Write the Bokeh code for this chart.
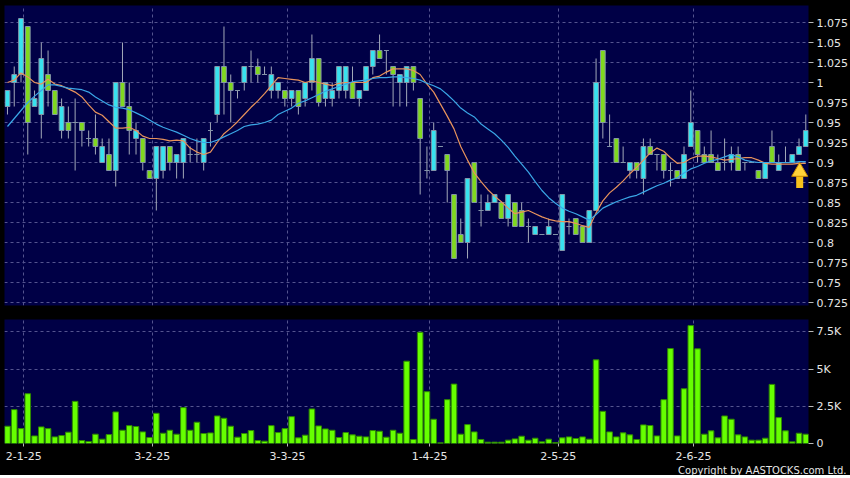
from bokeh.plotting import figure
from bokeh.layouts import column
from bokeh.models import ColumnDataSource, FixedTicker, NumeralTickFormatter, Range1d, Title
from bokeh.embed import file_html
from bokeh.resources import INLINE

# ---------------- data ----------------
open_ = [0.97, 1.00, 1.01, 1.07, 0.97, 0.96, 1.01, 0.99, 0.94, 0.95,
         0.95, 0.95, 0.93, 0.93, 0.90, 0.91, 0.89, 1.00, 0.97, 0.93,
         0.93, 0.89, 0.88, 0.89, 0.92, 0.90, 0.90, 0.91, 0.91, 0.90,
         0.94, 0.96, 1.02, 1.00, 0.99, 1.00, 1.02, 1.02, 1.01, 0.99,
         0.99, 0.99, 0.98, 0.99, 0.98, 1.00, 1.03, 0.98, 0.98, 0.99,
         0.99, 1.00, 0.98, 0.99, 1.02, 1.04, 1.04, 1.02, 1.00, 1.00,
         1.02, 0.98, 0.89, 0.89, 0.92, 0.91, 0.86, 0.81, 0.80, 0.90,
         0.84, 0.84, 0.85, 0.85, 0.83, 0.85, 0.84, 0.82, 0.81, 0.81,
         0.81, 0.81, 0.79, 0.82, 0.83, 0.82, 0.80, 0.84, 1.04, 0.92,
         0.93, 0.90, 0.89, 0.90, 0.88, 0.92, 0.91, 0.91, 0.89, 0.89,
         0.88, 0.92, 0.94, 0.91, 0.91, 0.90, 0.90, 0.90, 0.91, 0.90,
         0.90, 0.89, 0.88, 0.92, 0.89, 0.90, 0.90, 0.91, 0.92]

high = [0.99, 1.02, 1.08, 1.07, 0.99, 1.05, 1.04, 0.99, 0.98, 0.97,
        0.98, 0.95, 0.94, 0.96, 0.93, 0.93, 1.00, 1.05, 1.00, 0.95,
        0.93, 0.89, 0.92, 0.92, 0.92, 0.91, 0.93, 0.92, 0.93, 0.93,
        0.95, 1.02, 1.07, 1.01, 0.99, 1.02, 1.04, 1.03, 1.02, 1.02,
        1.00, 0.99, 0.99, 0.99, 1.00, 1.06, 1.03, 1.00, 1.00, 1.02,
        1.02, 1.02, 0.99, 1.02, 1.04, 1.06, 1.04, 1.02, 1.01, 1.02,
        1.02, 0.98, 0.92, 0.95, 0.92, 0.91, 0.86, 0.83, 0.88, 0.90,
        0.86, 0.86, 0.86, 0.85, 0.86, 0.85, 0.85, 0.83, 0.82, 0.81,
        0.83, 0.81, 0.86, 0.83, 0.83, 0.82, 0.84, 1.03, 1.04, 0.96,
        0.93, 0.92, 0.90, 0.90, 0.93, 0.93, 0.91, 0.91, 0.90, 0.89,
        0.92, 0.99, 0.94, 0.92, 0.94, 0.91, 0.93, 0.92, 0.92, 0.90,
        0.90, 0.89, 0.90, 0.94, 0.91, 0.92, 0.91, 0.93, 0.96]

low = [0.96, 0.97, 1.00, 0.91, 0.97, 0.93, 0.97, 0.96, 0.93, 0.93,
       0.89, 0.92, 0.92, 0.91, 0.90, 0.89, 0.87, 0.97, 0.91, 0.91,
       0.89, 0.88, 0.84, 0.88, 0.89, 0.88, 0.88, 0.90, 0.90, 0.89,
       0.92, 0.95, 0.96, 0.95, 0.98, 0.99, 1.00, 1.00, 1.01, 0.98,
       0.98, 0.97, 0.97, 0.96, 0.97, 0.99, 0.97, 0.97, 0.97, 0.98,
       0.98, 0.98, 0.97, 0.99, 1.01, 1.03, 1.01, 0.97, 0.97, 0.97,
       0.99, 0.86, 0.88, 0.89, 0.92, 0.85, 0.78, 0.80, 0.78, 0.85,
       0.82, 0.84, 0.85, 0.83, 0.82, 0.82, 0.82, 0.80, 0.81, 0.81,
       0.81, 0.81, 0.79, 0.81, 0.81, 0.80, 0.80, 0.84, 0.93, 0.92,
       0.90, 0.90, 0.88, 0.88, 0.86, 0.91, 0.89, 0.88, 0.87, 0.88,
       0.88, 0.92, 0.90, 0.90, 0.90, 0.89, 0.89, 0.89, 0.89, 0.89,
       0.90, 0.88, 0.88, 0.90, 0.89, 0.90, 0.90, 0.91, 0.92]

close = [0.99, 1.01, 1.08, 0.95, 0.98, 1.03, 0.99, 0.96, 0.97, 0.94,
         0.95, 0.94, 0.93, 0.92, 0.92, 0.89, 1.00, 0.97, 0.94, 0.94,
         0.90, 0.88, 0.92, 0.92, 0.90, 0.91, 0.93, 0.91, 0.91, 0.93,
         0.94, 1.02, 1.00, 0.99, 0.99, 1.02, 1.02, 1.01, 1.01, 1.01,
         1.00, 0.98, 0.99, 0.97, 1.00, 1.03, 0.975, 1.00, 0.99, 1.02,
         1.02, 0.98, 0.99, 1.02, 1.04, 1.03, 1.04, 1.01, 1.01, 1.02,
         1.00, 0.93, 0.89, 0.94, 0.92, 0.89, 0.78, 0.80, 0.88, 0.85,
         0.84, 0.85, 0.86, 0.83, 0.86, 0.82, 0.82, 0.82, 0.82, 0.81,
         0.82, 0.81, 0.86, 0.82, 0.81, 0.80, 0.84, 1.00, 0.95, 0.92,
         0.90, 0.90, 0.90, 0.89, 0.92, 0.91, 0.91, 0.89, 0.89, 0.88,
         0.91, 0.95, 0.91, 0.90, 0.90, 0.89, 0.90, 0.91, 0.89, 0.90,
         0.90, 0.88, 0.90, 0.90, 0.90, 0.90, 0.91, 0.92, 0.94]

volume = [1160, 2275, 1000, 3345, 510, 1115, 1000, 445, 535, 760,
          2830, 200, 135, 625, 290, 600, 2120, 890, 1200, 1140,
          780, 400, 2030, 690, 890, 625, 2410, 890, 1430, 670,
          710, 1850, 1695, 1160, 425, 670, 870, 200, 155, 1200,
          735, 1000, 1805, 380, 560, 2320, 1180, 980, 890, 400,
          735, 580, 490, 445, 870, 825, 425, 890, 690, 5530,
          270, 7470, 3480, 1630, 45, 2945, 3990, 625, 1270, 780,
          270, 90, 90, 90, 225, 310, 490, 225, 355, 110,
          290, 65, 380, 445, 335, 445, 290, 5620, 2160, 780,
          445, 715, 580, 270, 1250, 1205, 510, 2945, 6380, 510,
          3680, 7920, 6360, 625, 850, 380, 1850, 1630, 580, 445,
          225, 225, 355, 3970, 1740, 850, 110, 690, 625]

ma_short = [1.000, 1.003, 1.012, 1.007, 1.000, 0.998, 1.004, 0.998, 0.996, 0.992,
            0.988, 0.982, 0.972, 0.963, 0.959, 0.951, 0.943, 0.943, 0.944, 0.940,
            0.933, 0.930, 0.930, 0.929, 0.927, 0.928, 0.927, 0.918, 0.913, 0.910,
            0.913, 0.925, 0.936, 0.943, 0.951, 0.960, 0.969, 0.977, 0.986, 0.996,
            1.006, 1.005, 1.004, 1.003, 1.000, 1.002, 1.000, 0.998, 0.996, 0.999,
            1.000, 1.000, 1.000, 1.000, 1.006, 1.008, 1.013, 1.017, 1.017, 1.017,
            1.015, 1.010, 0.998, 0.988, 0.973, 0.958, 0.942, 0.920, 0.903, 0.887,
            0.876, 0.866, 0.858, 0.851, 0.843, 0.836, 0.838, 0.840, 0.836, 0.832,
            0.829, 0.827, 0.826, 0.826, 0.824, 0.821, 0.819, 0.837, 0.852, 0.862,
            0.869, 0.877, 0.886, 0.894, 0.903, 0.912, 0.918, 0.914, 0.906, 0.899,
            0.900, 0.905, 0.908, 0.908, 0.907, 0.905, 0.903, 0.904, 0.905, 0.906,
            0.906, 0.903, 0.899, 0.898, 0.898, 0.898, 0.898, 0.899, 0.899]

ma_long = [0.945, 0.955, 0.965, 0.975, 0.983, 0.990, 0.997, 0.997, 0.995, 0.993,
           0.992, 0.991, 0.988, 0.982, 0.977, 0.972, 0.969, 0.968, 0.966, 0.962,
           0.958, 0.953, 0.948, 0.944, 0.941, 0.938, 0.934, 0.930, 0.927, 0.925,
           0.925, 0.928, 0.932, 0.936, 0.940, 0.945, 0.947, 0.948, 0.950, 0.953,
           0.960, 0.964, 0.968, 0.974, 0.977, 0.981, 0.985, 0.989, 0.992, 0.995,
           0.998, 1.001, 1.002, 1.003, 1.005, 1.006, 1.006, 1.007, 1.007, 1.006,
           1.005, 1.003, 0.999, 0.996, 0.992, 0.985, 0.977, 0.968, 0.962, 0.957,
           0.948, 0.942, 0.936, 0.928, 0.919, 0.908, 0.898, 0.888, 0.876, 0.865,
           0.856, 0.849, 0.843, 0.839, 0.836, 0.832, 0.828, 0.835, 0.843, 0.847,
           0.851, 0.854, 0.857, 0.859, 0.863, 0.867, 0.871, 0.874, 0.878, 0.881,
           0.887, 0.892, 0.895, 0.899, 0.902, 0.904, 0.907, 0.910, 0.907, 0.903,
           0.901, 0.900, 0.900, 0.900, 0.900, 0.900, 0.900, 0.901, 0.901]

date_tick_index = [2, 21, 41, 62, 81, 101]
date_tick_labels = ["2-1-25", "3-2-25", "3-3-25", "1-4-25", "2-5-25", "2-6-25"]
price_ticks = [0.725, 0.75, 0.775, 0.8, 0.825, 0.85, 0.875, 0.9,
               0.925, 0.95, 0.975, 1.0, 1.025, 1.05, 1.075]
vol_ticks = [0, 2500, 5000, 7500]
vol_tick_labels = ["0", "2.5K", "5K", "7.5K"]

# ---------------- styling ----------------
NAVY = "#000046"
GRID = "#54548f"
UP = "#38e2ef"
DOWN = "#80d81f"
DOJI = "#8e9bb0"
TXT = "#e6e6e6"
FONT = "DejaVu Sans"

n = len(close)
idx = list(range(n))
body_top = [max(o, c) for o, c in zip(open_, close)]
body_bot = [min(o, c) for o, c in zip(open_, close)]
body_col = [UP if c > o else (DOWN if c < o else DOJI) for o, c in zip(open_, close)]

src = ColumnDataSource(dict(x=idx, h=high, l=low, top=body_top, bot=body_bot,
                            color=body_col, vol=volume))

# date ticks sit a little to the right of the bar centre, as in the original
tick_pos = [i + 0.4 for i in date_tick_index]

x_rng = Range1d(-0.44, 118.40)


def style_axis(ax, tick_out, standoff=3):
    ax.axis_line_color = None
    ax.major_tick_line_color = "#b8b8b8"
    ax.major_tick_out = tick_out
    ax.major_tick_in = 0
    ax.minor_tick_line_color = None
    ax.major_label_text_color = TXT
    ax.major_label_text_font = FONT
    ax.major_label_text_font_size = "11px"
    ax.major_label_standoff = standoff


def style_grid(g):
    g.grid_line_color = GRID
    g.grid_line_dash = "3 3"
    g.grid_line_width = 1


# ---------------- price panel ----------------
p = figure(frame_width=804, frame_height=300, x_range=x_rng,
           y_range=Range1d(0.72125, 1.09625),
           x_axis_location=None, y_axis_location="right",
           toolbar_location=None, output_backend="svg",
           background_fill_color=NAVY, border_fill_color="black",
           outline_line_color=None,
           min_border_left=4, min_border_right=42,
           min_border_top=5, min_border_bottom=6)

p.xgrid.ticker = FixedTicker(ticks=tick_pos)
p.ygrid.ticker = FixedTicker(ticks=price_ticks)
style_grid(p.xgrid)
style_grid(p.ygrid)
p.yaxis.ticker = FixedTicker(ticks=price_ticks)
p.yaxis.formatter = NumeralTickFormatter(format="0.[000]")
style_axis(p.yaxis, 5)

p.segment(x0="x", y0="l", x1="x", y1="h", source=src,
          line_color="#a2a8b8", line_width=1)
p.vbar(x="x", top="top", bottom="bot", width=0.7, source=src,
       fill_color="color", line_color="#8394a8", line_width=1)
p.line(idx, ma_short, line_color="#e8935c", line_width=1.2)
p.line(idx, ma_long, line_color="#3aa6e6", line_width=1.2)

# yellow "last price" arrow just under the moving averages at the last bars
arrow_x = n - 1.9
arrow_tip = ma_long[-1] - 0.004
p.segment(x0=[arrow_x], y0=[arrow_tip - 0.029], x1=[arrow_x], y1=[arrow_tip - 0.012],
          line_color="#f6c21c", line_width=7)
p.scatter(x=[arrow_x], y=[arrow_tip - 0.0085], marker="triangle", size=16,
          fill_color="#ffd23a", line_color="#c98a00", line_width=1)

# ---------------- volume panel ----------------
v = figure(frame_width=804, frame_height=124, x_range=x_rng,
           y_range=Range1d(0, 8330),
           y_axis_location="right",
           toolbar_location=None, output_backend="svg",
           background_fill_color=NAVY, border_fill_color="black",
           outline_line_color=None,
           min_border_left=4, min_border_right=42,
           min_border_top=8, min_border_bottom=0)

v.xgrid.ticker = FixedTicker(ticks=tick_pos)
v.ygrid.ticker = FixedTicker(ticks=vol_ticks)
style_grid(v.xgrid)
style_grid(v.ygrid)

v.yaxis.ticker = FixedTicker(ticks=vol_ticks)
v.yaxis.major_label_overrides = dict(zip(vol_ticks, vol_tick_labels))
style_axis(v.yaxis, 5)

v.xaxis.ticker = FixedTicker(ticks=tick_pos)
v.xaxis.major_label_overrides = dict(zip(tick_pos, date_tick_labels))
style_axis(v.xaxis, 3, standoff=5)

v.vbar(x="x", top="vol", bottom=0, width=0.82, source=src,
       fill_color="#66ff00", line_color="#2f8a00", line_width=1)

v.add_layout(Title(text="Copyright by AASTOCKS.com Ltd.", align="right",
                   offset=-38, standoff=0, text_font=FONT, text_font_size="10px",
                   text_font_style="normal", text_color=TXT), "below")

layout = column(p, v, spacing=0, styles={"background-color": "black"})

open("out.html", "w").write(file_html(layout, INLINE))
